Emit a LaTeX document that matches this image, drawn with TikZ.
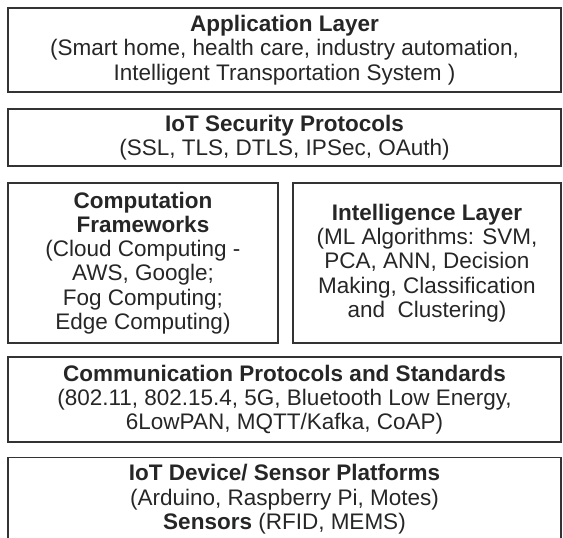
\documentclass[tikz,border=0pt]{standalone}
\usepackage{fontspec}
\setmainfont{Liberation Sans}
\usetikzlibrary{positioning}

\begin{document}
\begin{tikzpicture}[x=1pt,y=1pt]

  \tikzstyle{layer}=[rectangle,draw=black!80,line width=1.3pt,text=black!85,align=center,
    inner sep=0pt,font=\fontsize{22.5}{24.3}\selectfont]

  \useasboundingbox (0,0) rectangle (563,-538);

  \node [layer,minimum width=553,minimum height=84] (app) at (284.5,-50)
    {\textbf{Application Layer}\\(Smart home, health care, industry automation,\\Intelligent Transportation System )};
  \node [layer,minimum width=553,minimum height=57] (sec) at (284.5,-137.5)
    {\textbf{IoT Security Protocols}\\(SSL, TLS, DTLS, IPSec, OAuth)};
  \node [layer,minimum width=270,minimum height=160] (comp) at (143,-263)
    {\textbf{Computation}\\\textbf{Frameworks}\\(Cloud Computing -\\AWS, Google;\\Fog Computing;\\Edge Computing)};
  \node [layer,minimum width=268,minimum height=160] (intel) at (427,-263)
    {\textbf{Intelligence Layer}\\(ML Algorithms: SVM,\\PCA, ANN, Decision\\Making, Classification\\and~ Clustering)};
  \node [layer,minimum width=553,minimum height=85] (comm) at (284.5,-399.5)
    {\textbf{Communication Protocols and Standards}\\(802.11, 802.15.4, 5G, Bluetooth Low Energy,\\6LowPAN, MQTT/Kafka, CoAP)};
  \node [layer,minimum width=553,minimum height=100,anchor=north] (dev) at (284.5,-457)
    {};
  \node [layer,draw=none,below=7 of dev.north] (devtext)
    {\textbf{IoT Device/ Sensor Platforms}\\(Arduino, Raspberry Pi, Motes)\\\textbf{Sensors} (RFID, MEMS)};

\end{tikzpicture}
\end{document}
